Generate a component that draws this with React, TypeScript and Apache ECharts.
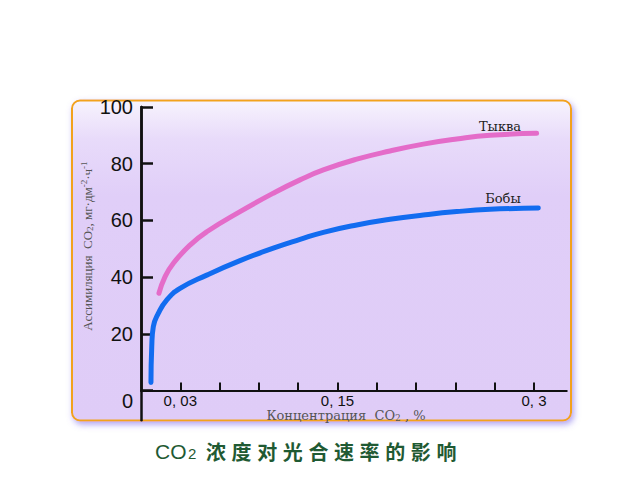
import React, { useEffect, useRef } from 'react';
import * as echarts from 'echarts';

// Data (x: CO2 concentration, %, y: assimilation)
const pumpkinX = [0.0137, 0.0183, 0.0247, 0.0374, 0.0502, 0.0756, 0.101, 0.1214, 0.1392, 0.1647, 0.1901, 0.2155, 0.241, 0.2664, 0.302];
const pumpkinY = [34.3, 40.1, 44.9, 51.3, 56.0, 63.1, 69.6, 74.3, 77.8, 81.6, 84.5, 86.9, 88.7, 90.0, 90.7];
const beanX = [0.0076, 0.0082, 0.0094, 0.0132, 0.0196, 0.0298, 0.0502, 0.0756, 0.101, 0.1214, 0.1392, 0.1647, 0.1901, 0.2155, 0.241, 0.2664, 0.3033];
const beanY = [2.8, 15.4, 22.5, 27.2, 31.9, 36.0, 40.7, 45.8, 50.2, 53.3, 55.8, 58.4, 60.4, 61.9, 63.1, 63.9, 64.4];

const seriesNames = ['Тыква', 'Бобы'];
const yTickValues = [0, 20, 40, 60, 80, 100];
const xTickValues = [0.03, 0.06, 0.09, 0.12, 0.15, 0.18, 0.21, 0.24, 0.27, 0.3];
const xLabelValues = [0.03, 0.15, 0.3];
const xLabelTexts = ['0, 03', '0, 15', '0, 3'];
const xAxisName = 'Концентрация  CO{sub|2} , %';
const yAxisName = 'Ассимиляция  CO{sub|2}, мг·дм{sup|-2}·ч{sup|-1}';
const titleLead = 'CO';
const titleSub = '2';
const titleChars = '浓度对光合速率的影响';

export default function App() {
  const ref = useRef<HTMLDivElement>(null);
  useEffect(() => {
    if (!ref.current) return;
    const chart = echarts.init(ref.current, undefined, { renderer: 'svg' });

    const titleGreen = '#1f5a33';
    const titleEls: any[] = [
      {
        type: 'text', x: 155, y: 451, z: 10,
        style: { text: titleLead, fontFamily: 'Liberation Sans, Arial', fontSize: 21, fill: titleGreen, verticalAlign: 'middle', align: 'left' },
      },
      {
        type: 'text', x: 188, y: 453, z: 10,
        style: { text: titleSub, fontFamily: 'Liberation Sans, Arial', fontSize: 15, fill: titleGreen, verticalAlign: 'middle', align: 'left' },
      },
    ];
    Array.from(titleChars).forEach((ch, i) => {
      titleEls.push({
        type: 'text', x: 216 + i * 25.6, y: 451, z: 10,
        style: { text: ch, fontFamily: 'Noto Sans CJK SC', fontWeight: 'bold', fontSize: 20, fill: titleGreen, align: 'center', verticalAlign: 'middle' },
      });
    });

    const axisColor = '#111';
    const option: any = {
      animation: false,
      backgroundColor: '#ffffff',
      grid: [
        { left: 141, top: 107, width: 425.75, height: 283.5, containLabel: false },
        { left: 141, top: 107, width: 425.75, height: 313.3, containLabel: false },
      ],
      xAxis: [
        {
          type: 'value',
          gridIndex: 0,
          min: 0,
          max: 0.325,
          axisLine: { onZero: false, lineStyle: { color: axisColor, width: 2 } },
          axisTick: { show: true, inside: true, length: 8, customValues: xTickValues, lineStyle: { color: axisColor, width: 2 } },
          axisLabel: {
            customValues: xLabelValues,
            margin: 2,
            color: axisColor,
            fontSize: 15,
            fontFamily: 'Liberation Sans, Arial',
            formatter: (v: number) => {
              const i = xLabelValues.findIndex((u) => Math.abs(u - v) < 1e-9);
              return i >= 0 ? xLabelTexts[i] : '';
            },
          },
          splitLine: { show: false },
        },
        {
          type: 'value', gridIndex: 1, min: 0, max: 0.325, show: false,
        },
      ],
      yAxis: [
        {
          type: 'value',
          gridIndex: 0,
          min: 0,
          max: 100,
          axisLine: { show: true, onZero: false, lineStyle: { color: axisColor, width: 2.5 } },
          axisTick: { show: true, inside: true, length: 12, customValues: yTickValues, lineStyle: { color: axisColor, width: 2.5 } },
          axisLabel: {
            customValues: yTickValues,
            margin: 8,
            color: axisColor,
            fontSize: 20,
            fontFamily: 'Liberation Sans, Arial',
            formatter: (v: number) => (v === 0 ? '{z|0}' : String(v)),
            rich: { z: { fontSize: 20, fontFamily: 'Liberation Sans, Arial', color: axisColor, padding: [20, 0, 0, 0] } },
          },
          splitLine: { show: false },
        },
        {
          type: 'value',
          gridIndex: 1,
          min: -10.5,
          max: 100,
          axisLine: { show: true, onZero: false, lineStyle: { color: axisColor, width: 2.5 } },
          axisTick: { show: false },
          axisLabel: { show: false },
          splitLine: { show: false },
        },
      ],
      graphic: [
        {
          type: 'rect', z: -100,
          shape: { x: 72, y: 100.5, width: 499, height: 320, r: 8 },
          style: {
            fill: {
              type: 'linear', x: 0, y: 0, x2: 0, y2: 1,
              colorStops: [
                { offset: 0, color: '#f7f3fd' },
                { offset: 0.12, color: '#e8dbfa' },
                { offset: 0.3, color: '#e0cef8' },
                { offset: 1, color: '#dfccf7' },
              ],
            },
            stroke: '#f2a21e',
            lineWidth: 2,
            shadowBlur: 6,
            shadowColor: 'rgba(110,90,230,0.55)',
            shadowOffsetX: 2,
            shadowOffsetY: 3,
          },
        },
        {
          type: 'text', x: 87, y: 246, rotation: Math.PI / 2, z: 10,
          style: {
            text: yAxisName,
            fontFamily: 'Liberation Serif, Times New Roman, serif',
            fontSize: 13,
            fill: '#555',
            align: 'center',
            verticalAlign: 'middle',
            rich: {
              sub: { fontSize: 9, fill: '#555', fontFamily: 'Liberation Serif', padding: [5, 0, 0, 0] },
              sup: { fontSize: 9, fill: '#555', fontFamily: 'Liberation Serif', padding: [0, 0, 7, 0] },
            },
          },
        },
        {
          type: 'text', x: 346, y: 415, z: 10,
          style: {
            text: xAxisName,
            fontFamily: 'DejaVu Serif, serif',
            fontSize: 13,
            fill: '#555',
            align: 'center',
            verticalAlign: 'middle',
            rich: {
              sub: { fontSize: 9, fill: '#555', fontFamily: 'DejaVu Serif', padding: [5, 0, 0, 0] },
            },
          },
        },
        {
          type: 'text', x: 500, y: 126, z: 10,
          style: { text: seriesNames[0], fontFamily: 'DejaVu Serif, serif', fontSize: 13, fill: '#222', align: 'center', verticalAlign: 'middle' },
        },
        {
          type: 'text', x: 503, y: 198, z: 10,
          style: { text: seriesNames[1], fontFamily: 'DejaVu Serif, serif', fontSize: 13, fill: '#222', align: 'center', verticalAlign: 'middle' },
        },
        ...titleEls,
      ],
      series: [
        {
          name: seriesNames[0],
          type: 'line',
          xAxisIndex: 0,
          yAxisIndex: 0,
          smooth: 0.5,
          showSymbol: false,
          data: pumpkinX.map((x, i) => [x, pumpkinY[i]]),
          lineStyle: { color: '#e46cc9', width: 5, cap: 'round', join: 'round' },
          itemStyle: { color: '#e46cc9' },
        },
        {
          name: seriesNames[1],
          type: 'line',
          xAxisIndex: 0,
          yAxisIndex: 0,
          smooth: 0.5,
          showSymbol: false,
          data: beanX.map((x, i) => [x, beanY[i]]),
          lineStyle: { color: '#126cf0', width: 5, cap: 'round', join: 'round' },
          itemStyle: { color: '#126cf0' },
        },
      ],
    };
    chart.setOption(option);
    return () => chart.dispose();
  }, []);
  return <div ref={ref} style={{ position: 'fixed', left: 0, top: 0, width: 640, height: 480 }} />;
}
